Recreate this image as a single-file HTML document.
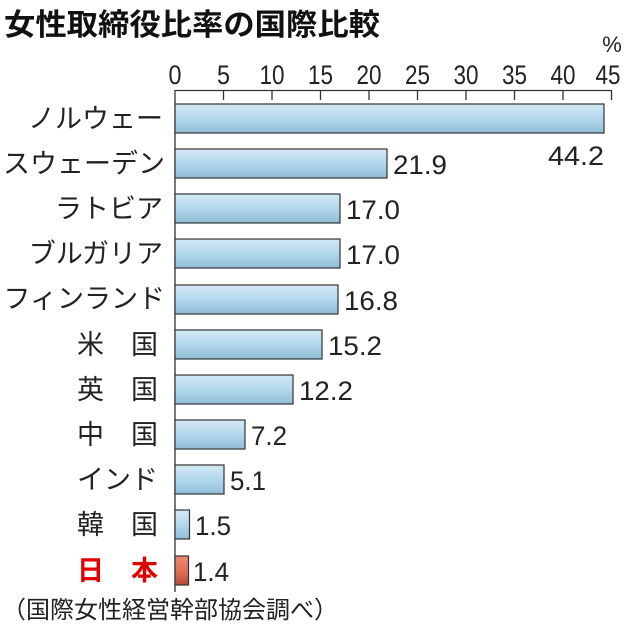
<!DOCTYPE html>
<html><head><meta charset="utf-8"><style>
body{margin:0;background:#fff;}
svg text{font-family:"Liberation Sans","Noto Sans CJK JP",sans-serif;fill:#222;}
</style></head><body>
<svg width="630" height="629" xmlns="http://www.w3.org/2000/svg">
<defs>
<linearGradient id="b" x1="0" y1="0" x2="0" y2="1"><stop offset="0" stop-color="#d4e9f5"/><stop offset="0.5" stop-color="#b3d8ec"/><stop offset="1" stop-color="#8fbdd8"/></linearGradient>
<linearGradient id="r" x1="0" y1="0" x2="0" y2="1"><stop offset="0" stop-color="#f08a70"/><stop offset="0.6" stop-color="#dc6a50"/><stop offset="1" stop-color="#b04a35"/></linearGradient>
</defs>
<text x="4" y="35" font-size="30" font-weight="bold" textLength="376" lengthAdjust="spacingAndGlyphs" style="fill:#111">女性取締役比率の国際比較</text>
<text x="612" y="52" font-size="22" text-anchor="middle">%</text>
<g font-size="27" text-anchor="middle" lengthAdjust="spacingAndGlyphs">
<text x="175" y="84" textLength="13" lengthAdjust="spacingAndGlyphs">0</text><text x="223.5" y="84" textLength="13" lengthAdjust="spacingAndGlyphs">5</text><text x="272" y="84" textLength="25" lengthAdjust="spacingAndGlyphs">10</text><text x="320.5" y="84" textLength="25" lengthAdjust="spacingAndGlyphs">15</text><text x="369" y="84" textLength="25" lengthAdjust="spacingAndGlyphs">20</text><text x="417.5" y="84" textLength="25" lengthAdjust="spacingAndGlyphs">25</text><text x="466" y="84" textLength="25" lengthAdjust="spacingAndGlyphs">30</text><text x="514.5" y="84" textLength="25" lengthAdjust="spacingAndGlyphs">35</text><text x="563" y="84" textLength="25" lengthAdjust="spacingAndGlyphs">40</text><text x="608" y="84" textLength="25" lengthAdjust="spacingAndGlyphs">45</text>
</g>
<g stroke="#333" stroke-width="1.3">
<line x1="175" y1="90.5" x2="612" y2="90.5"/>
<line x1="175" y1="90" x2="175" y2="592"/>
<line x1="223.5" y1="90" x2="223.5" y2="100"/><line x1="272" y1="90" x2="272" y2="100"/><line x1="320.5" y1="90" x2="320.5" y2="100"/><line x1="369" y1="90" x2="369" y2="100"/><line x1="417.5" y1="90" x2="417.5" y2="100"/><line x1="466" y1="90" x2="466" y2="100"/><line x1="514.5" y1="90" x2="514.5" y2="100"/><line x1="563" y1="90" x2="563" y2="100"/><line x1="611.5" y1="90" x2="611.5" y2="100"/>
</g>
<g stroke="#333" stroke-width="1.2" fill="url(#b)">
<rect x="175" y="104" width="429" height="29"/>
<rect x="175" y="149" width="212" height="29"/>
<rect x="175" y="194" width="165" height="29"/>
<rect x="175" y="239" width="165" height="29"/>
<rect x="175" y="285" width="163" height="29"/>
<rect x="175" y="330" width="147" height="29"/>
<rect x="175" y="375" width="118" height="29"/>
<rect x="175" y="420" width="70" height="29"/>
<rect x="175" y="465" width="49" height="29"/>
<rect x="175" y="510" width="14.5" height="29"/>
<rect x="175" y="556" width="13.5" height="29" fill="url(#r)"/>
</g>
<g font-size="27">
<text x="548" y="165" textLength="56" lengthAdjust="spacingAndGlyphs">44.2</text>
<text x="393" y="174" textLength="54" lengthAdjust="spacingAndGlyphs">21.9</text>
<text x="346" y="219" textLength="54" lengthAdjust="spacingAndGlyphs">17.0</text>
<text x="346" y="264" textLength="54" lengthAdjust="spacingAndGlyphs">17.0</text>
<text x="344" y="310" textLength="54" lengthAdjust="spacingAndGlyphs">16.8</text>
<text x="328" y="355" textLength="54" lengthAdjust="spacingAndGlyphs">15.2</text>
<text x="299" y="400" textLength="54" lengthAdjust="spacingAndGlyphs">12.2</text>
<text x="251" y="445" textLength="36" lengthAdjust="spacingAndGlyphs">7.2</text>
<text x="230" y="490" textLength="36" lengthAdjust="spacingAndGlyphs">5.1</text>
<text x="195" y="535" textLength="36" lengthAdjust="spacingAndGlyphs">1.5</text>
<text x="193" y="581" textLength="36" lengthAdjust="spacingAndGlyphs">1.4</text>
</g>
<g font-size="27" text-anchor="end">
<text x="163" y="128">ノルウェー</text>
<text x="165" y="173">スウェーデン</text>
<text x="163" y="218">ラトビア</text>
<text x="163" y="263">ブルガリア</text>
<text x="165" y="308">フィンランド</text>
<text x="158" y="354">米　国</text>
<text x="158" y="399">英　国</text>
<text x="158" y="444">中　国</text>
<text x="158" y="489">インド</text>
<text x="158" y="534">韓　国</text>
<text x="158" y="580" style="fill:#e00000;font-weight:bold">日　本</text>
</g>
<text x="2" y="618" font-size="24">（国際女性経営幹部協会調べ）</text>
</svg>
</body></html>
